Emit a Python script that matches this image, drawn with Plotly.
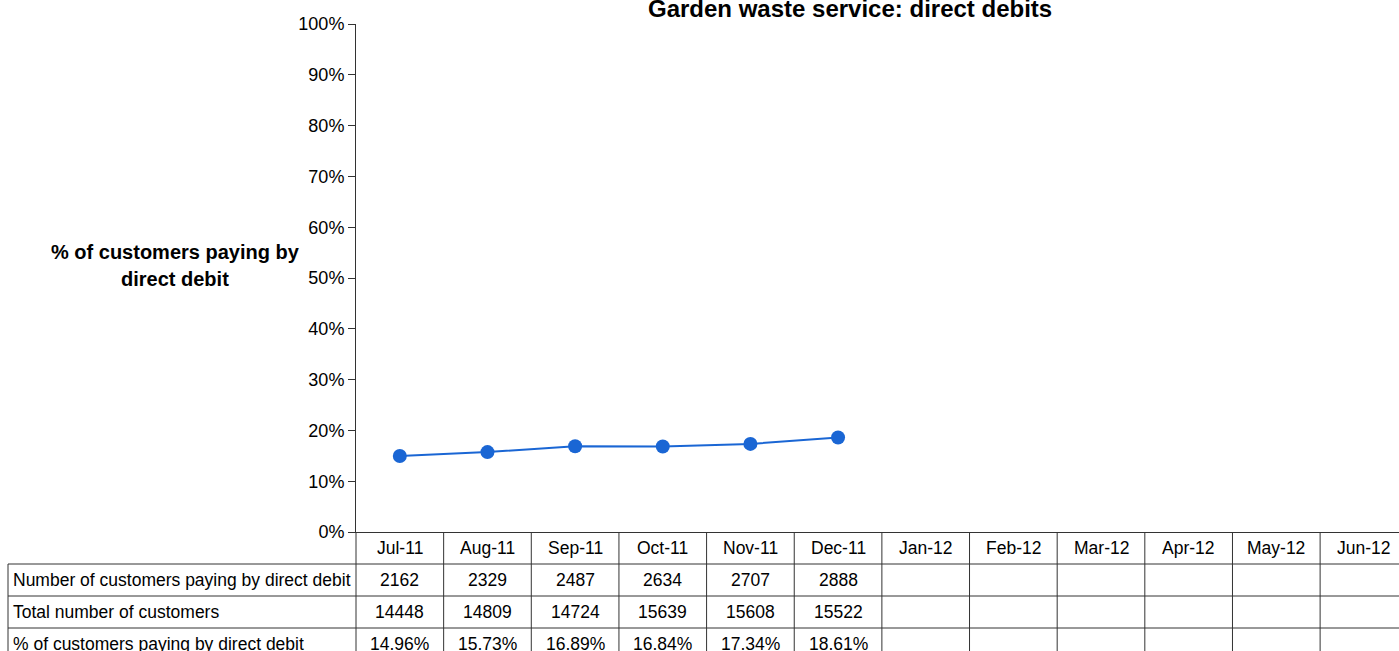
import plotly.graph_objects as go

months = ["Jul-11", "Aug-11", "Sep-11", "Oct-11", "Nov-11", "Dec-11",
          "Jan-12", "Feb-12", "Mar-12", "Apr-12", "May-12", "Jun-12"]
dd_customers = [2162, 2329, 2487, 2634, 2707, 2888]
total_customers = [14448, 14809, 14724, 15639, 15608, 15522]
pct_dd = [14.96, 15.73, 16.89, 16.84, 17.34, 18.61]
row_labels = ["Number of customers paying by direct debit",
              "Total number of customers",
              "% of customers paying by direct debit"]

W, H = 1399, 651
L, R, T, B = 356, 0, 24, 119
PW, PH = W - L - R, H - T - B
XMIN, XMAX = -0.5, 11.4
FONT = "Liberation Sans, Arial, sans-serif"
LINE_C = "#333333"
BLUE = "#1a66d4"


def px_to_px(px):
    return (px - L) / PW


def py_to_py(py):
    return (H - B - py) / PH


def xi_to_px(xi):
    return (xi - XMIN) / (XMAX - XMIN)


fig = go.Figure()
fig.add_trace(go.Scatter(
    x=months[:len(pct_dd)], y=[v / 100 for v in pct_dd],
    mode="lines+markers",
    line=dict(color=BLUE, width=2),
    marker=dict(color=BLUE, size=14),
    showlegend=False, hoverinfo="x+y"))

shapes = []
# vertical separators in table
for b in range(-1, len(months)):
    xp = xi_to_px(b + 0.5)
    shapes.append(dict(type="line", xref="paper", yref="paper",
                       x0=xp, x1=xp, y0=py_to_py(532), y1=py_to_py(660),
                       line=dict(color=LINE_C, width=1)))
# horizontal row lines
for py in [564, 596, 628]:
    shapes.append(dict(type="line", xref="paper", yref="paper",
                       x0=px_to_px(8), x1=1.0, y0=py_to_py(py), y1=py_to_py(py),
                       line=dict(color=LINE_C, width=1)))
# left border of label column
shapes.append(dict(type="line", xref="paper", yref="paper",
                   x0=px_to_px(8), x1=px_to_px(8), y0=py_to_py(564), y1=py_to_py(660),
                   line=dict(color=LINE_C, width=1)))

ann = []
TF = dict(family=FONT, size=17.5, color="black")
row_centers = [548, 580, 612, 644]
for i, m in enumerate(months):
    ann.append(dict(x=m, xref="x", y=py_to_py(row_centers[0]), yref="paper",
                    text=m, showarrow=False, font=TF, xanchor="center", yanchor="middle"))
for i in range(len(dd_customers)):
    ann.append(dict(x=months[i], xref="x", y=py_to_py(row_centers[1]), yref="paper",
                    text=str(dd_customers[i]), showarrow=False, font=TF,
                    xanchor="center", yanchor="middle"))
    ann.append(dict(x=months[i], xref="x", y=py_to_py(row_centers[2]), yref="paper",
                    text=str(total_customers[i]), showarrow=False, font=TF,
                    xanchor="center", yanchor="middle"))
    ann.append(dict(x=months[i], xref="x", y=py_to_py(row_centers[3]), yref="paper",
                    text=f"{pct_dd[i]:.2f}%", showarrow=False, font=TF,
                    xanchor="center", yanchor="middle"))
for r, lab in enumerate(row_labels):
    ann.append(dict(x=px_to_px(11), xref="paper", y=py_to_py(row_centers[r + 1]), yref="paper",
                    text=lab, showarrow=False, font=TF, xanchor="left", yanchor="middle"))
# y-axis title (two lines)
for txt, py in [("% of customers paying by", 252), ("direct debit", 279)]:
    ann.append(dict(x=px_to_px(175), xref="paper", y=py_to_py(py), yref="paper",
                    text=f"<b>{txt}</b>", showarrow=False,
                    font=dict(family=FONT, size=20, color="black"),
                    xanchor="center", yanchor="middle", align="center"))
# title
ann.append(dict(x=px_to_px(850), xref="paper", y=py_to_py(8), yref="paper",
                text="<b>Garden waste service: direct debits</b>", showarrow=False,
                font=dict(family=FONT, size=24, color="black"),
                xanchor="center", yanchor="middle"))

fig.update_layout(
    width=W, height=H,
    margin=dict(l=L, r=R, t=T, b=B, pad=0),
    paper_bgcolor="white", plot_bgcolor="white",
    shapes=shapes, annotations=ann,
    xaxis=dict(type="category", categoryorder="array", categoryarray=months,
               range=[XMIN, XMAX], showticklabels=False, ticks="",
               showgrid=False, zeroline=False, showline=True,
               linecolor=LINE_C, linewidth=1, fixedrange=True),
    yaxis=dict(range=[0, 1], tickvals=[i / 10 for i in range(11)],
               tickformat=".0%", ticks="outside", ticklen=7, tickcolor=LINE_C,
               showgrid=False, zeroline=False, showline=True,
               linecolor=LINE_C, linewidth=1,
               tickfont=dict(family=FONT, size=18, color="black"), fixedrange=True),
)

fig.write_html("out.html", config={"displayModeBar": False},
               post_script="document.body.style.margin='0';document.body.style.overflow='hidden';")
